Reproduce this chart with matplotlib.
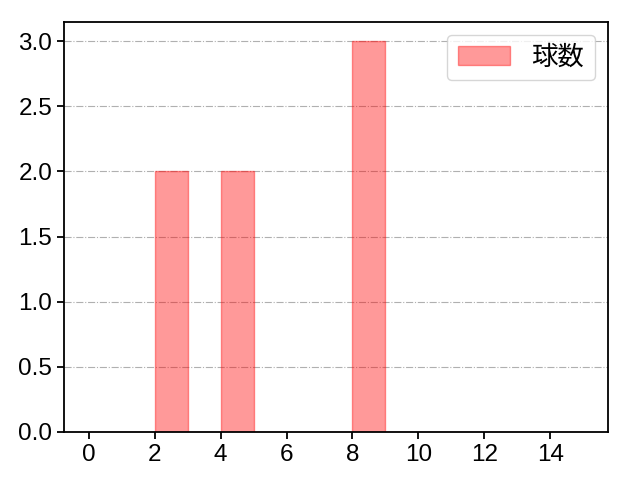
import matplotlib
matplotlib.use("Agg")
import matplotlib.pyplot as plt

plt.rcParams['font.family'] = ['Liberation Sans', 'Noto Sans CJK JP']

# pitch counts per bin
bin_edges = list(range(0, 16))
values = [2, 2, 4, 4, 8, 8, 8]
label = '球数'

fig, ax = plt.subplots(figsize=(6.4, 4.8), dpi=100)
ax.hist(values, bins=bin_edges, color='red', edgecolor='red', alpha=0.4,
        linewidth=1, label=label)
ax.grid(axis='y', linestyle='-.', color='#b0b0b0')
ax.set_axisbelow(True)
ax.set_xticks(range(0, 16, 2))
for s in ax.spines.values():
    s.set_linewidth(1.3)
ax.tick_params(labelsize=17.5, length=5, width=1.3)
ax.legend(loc='upper right', fontsize=19)
fig.subplots_adjust(left=0.1, right=0.95, top=0.955, bottom=0.1)
fig.savefig('out.png', dpi=100)
